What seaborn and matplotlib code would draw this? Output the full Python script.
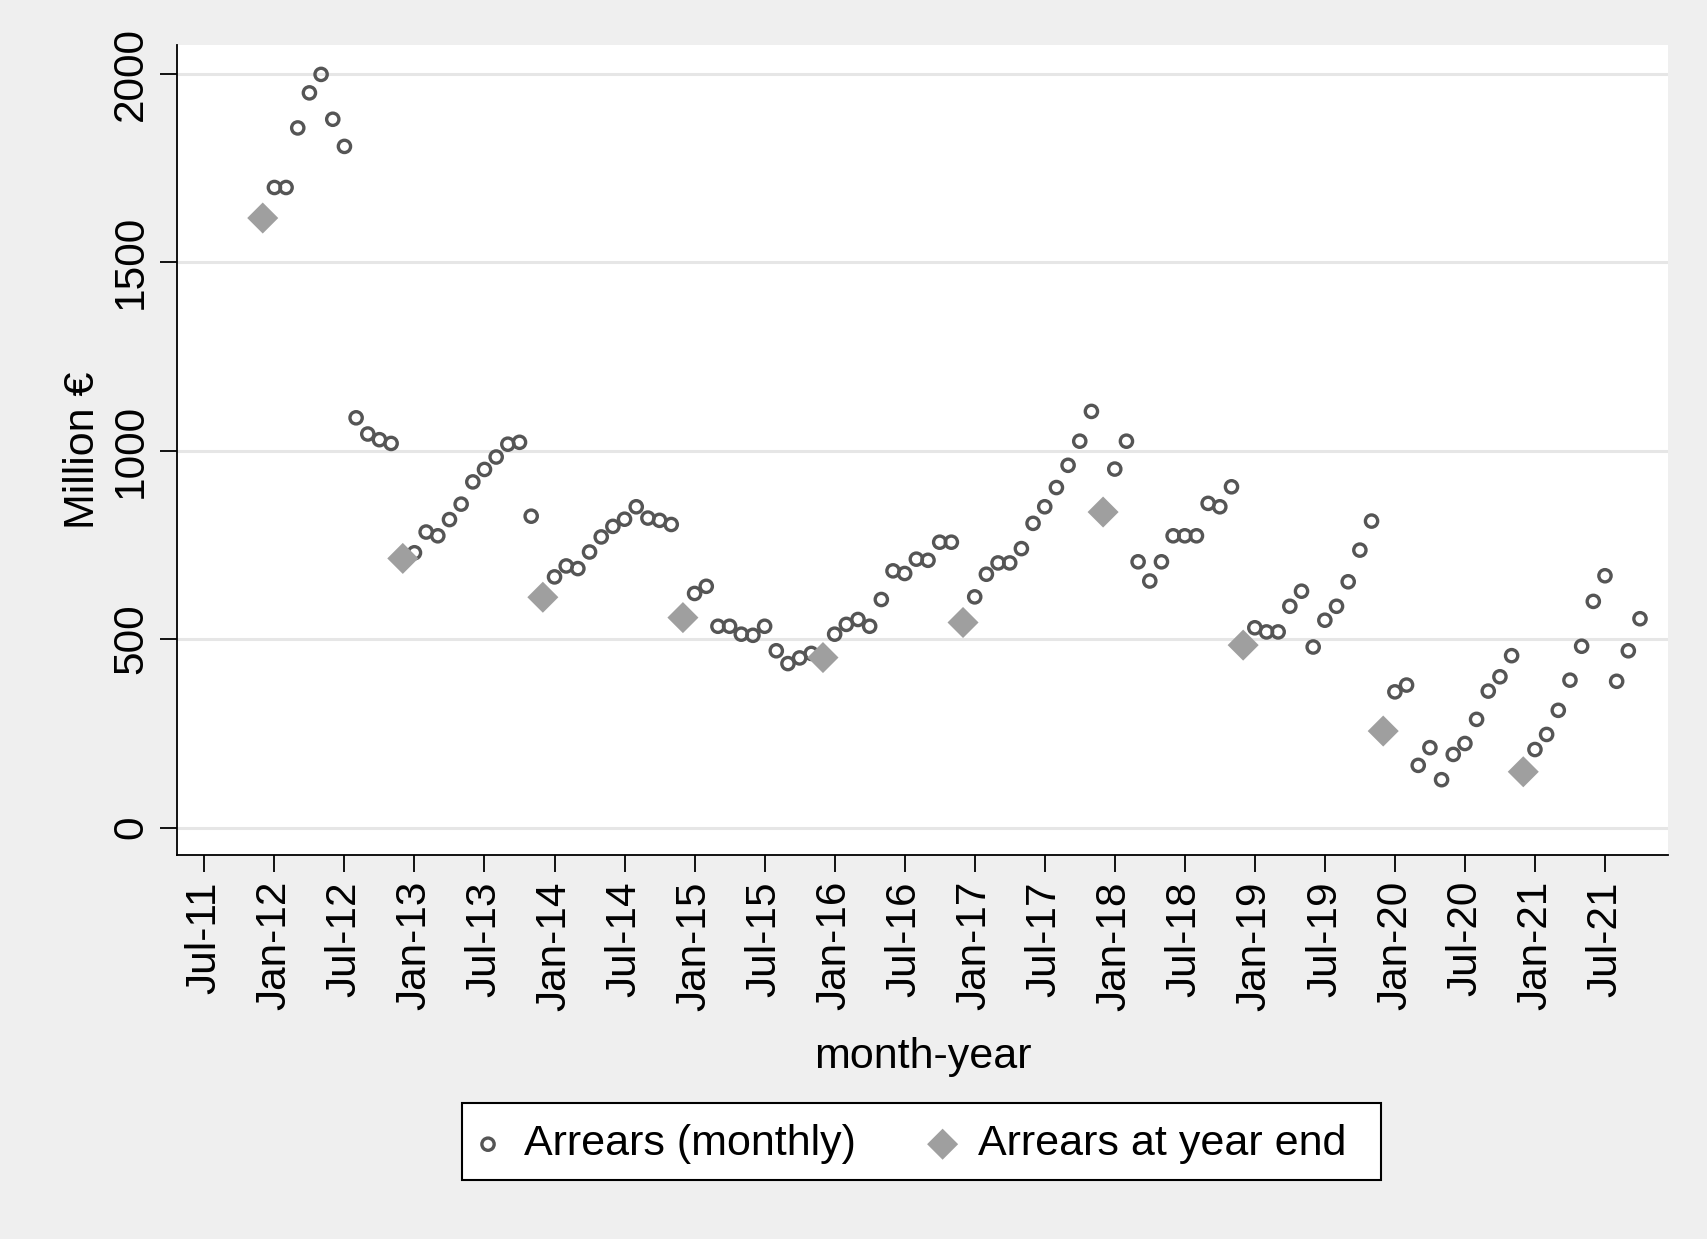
import numpy as np
import pandas as pd
import matplotlib
matplotlib.use("Agg")
import matplotlib.pyplot as plt
from matplotlib.patches import Rectangle
import seaborn as sns

# Monthly arrears, million €, one list per calendar year (Jan..Dec)
arrears_2012 = [1698, 1698, 1856, 1949, 1998, 1879, 1807, 1087, 1044, 1029, 1019, 714]
arrears_2013 = [729, 784, 774, 817, 858, 917, 950, 983, 1017, 1022, 826, 611]
arrears_2014 = [665, 694, 687, 731, 771, 799, 818, 851, 821, 815, 804, 557]
arrears_2015 = [621, 640, 534, 534, 513, 510, 534, 469, 435, 450, 462, 451]
arrears_2016 = [513, 539, 552, 534, 605, 681, 674, 712, 709, 757, 757, 544]
arrears_2017 = [612, 672, 702, 702, 740, 807, 851, 902, 961, 1025, 1104, 837]
arrears_2018 = [951, 1025, 705, 654, 705, 774, 774, 774, 860, 851, 904, 484]
arrears_2019 = [530, 519, 519, 587, 627, 479, 550, 587, 652, 736, 813, 256]
arrears_2020 = [360, 378, 165, 212, 127, 194, 223, 287, 362, 400, 456, 148]
arrears_2021 = [207, 247, 311, 391, 481, 600, 668, 388, 469, 554]

# Arrears at the end of each year (December), million €
year_end_years = [2011, 2012, 2013, 2014, 2015, 2016, 2017, 2018, 2019, 2020]
year_end_values = [1617, 714, 611, 557, 451, 544, 837, 484, 256, 148]

tick_labels = ["Jul-11", "Jan-12", "Jul-12", "Jan-13", "Jul-13", "Jan-14", "Jul-14",
               "Jan-15", "Jul-15", "Jan-16", "Jul-16", "Jan-17", "Jul-17", "Jan-18",
               "Jul-18", "Jan-19", "Jul-19", "Jan-20", "Jul-20", "Jan-21", "Jul-21"]
y_ticks = [0, 500, 1000, 1500, 2000]

# ---------------------------------------------------------------------------
BASE = pd.Period("2011-07", freq="M")


def month_index(period):
    return (period - BASE).n


monthly_values = (arrears_2012 + arrears_2013 + arrears_2014 + arrears_2015 +
                  arrears_2016 + arrears_2017 + arrears_2018 + arrears_2019 +
                  arrears_2020 + arrears_2021)
monthly_periods = pd.period_range("2012-01", periods=len(monthly_values), freq="M")
monthly = pd.DataFrame({
    "t": [month_index(p) for p in monthly_periods],
    "value": monthly_values,
})
year_end = pd.DataFrame({
    "t": [month_index(pd.Period(f"{y}-12", freq="M")) for y in year_end_years],
    "value": year_end_values,
})
tick_pos = [month_index(pd.Period(pd.to_datetime(lbl, format="%b-%y"), freq="M"))
            for lbl in tick_labels]

sns.set_style("white")
plt.rcParams["font.family"] = ["Liberation Sans", "DejaVu Sans"]
plt.rcParams["text.color"] = "black"
plt.rcParams["axes.labelcolor"] = "black"
plt.rcParams["xtick.color"] = "black"
plt.rcParams["ytick.color"] = "black"

W, H = 1708, 1239
fig = plt.figure(figsize=(W / 100, H / 100), dpi=100)
fig.patch.set_facecolor("#efefef")

left, right, top, bottom = 177.3, 1668.0, 45.0, 854.7
ax = fig.add_axes([left / W, 1 - bottom / H, (right - left) / W, (bottom - top) / H])
ax.set_facecolor("white")

sns.scatterplot(data=monthly, x="t", y="value", ax=ax, marker="o", s=78,
                color="#555555", facecolor="none", edgecolor="#555555",
                linewidth=2.4, label="Arrears (monthly)", zorder=3)
sns.scatterplot(data=year_end, x="t", y="value", ax=ax, marker="D", s=250,
                color="#9f9f9f", edgecolor="none", linewidth=0,
                label="Arrears at year end", zorder=4)

ax.set_xlim(-2.32, 125.4)
ax.set_ylim(-72, 2076)

ax.set_xticks(tick_pos)
ax.set_xticklabels(tick_labels, rotation=90)
ax.set_yticks(y_ticks)
ax.set_yticklabels([str(v) for v in y_ticks], rotation=90, va="center")

ax.yaxis.grid(True, color="#e6e6e6", linewidth=2.2)
ax.xaxis.grid(False)
ax.set_axisbelow(True)

for side in ("top", "right"):
    ax.spines[side].set_visible(False)
for side in ("left", "bottom"):
    ax.spines[side].set_color("black")
    ax.spines[side].set_linewidth(1.3)

ax.tick_params(axis="both", which="major", direction="out", length=12, width=1.3,
               color="black", labelsize=30.5, pad=7, labelcolor="black")
ax.tick_params(left=True, bottom=True)

ax.set_xlabel("month-year", fontsize=31)
ax.xaxis.set_label_coords(0.5, -0.250)
ax.xaxis.label.set_va("center")
ax.set_ylabel("Million €", fontsize=31)
ax.yaxis.set_label_coords(-0.0633, 0.5)
ax.yaxis.label.set_va("center")

# Legend: boxed key below the plot
handles, labels = ax.get_legend_handles_labels()
if ax.get_legend() is not None:
    ax.get_legend().remove()

box_l, box_r, box_t, box_b = 462.3, 1381.0, 1102.7, 1180.0
fig.patches.append(Rectangle((box_l / W, 1 - box_b / H), (box_r - box_l) / W,
                             (box_b - box_t) / H, transform=fig.transFigure,
                             facecolor="white", edgecolor="black", linewidth=1.5,
                             zorder=1))
fig.legend(handles, labels, loc="center left",
           bbox_to_anchor=(470.8 / W, 1 - 1144.5 / H),
           bbox_transform=fig.transFigure, ncol=2, frameon=False, fontsize=31,
           borderpad=0, handlelength=0.8, handletextpad=0.43,
           columnspacing=1.62, borderaxespad=0)

fig.savefig("out.png", dpi=100, facecolor=fig.get_facecolor())
